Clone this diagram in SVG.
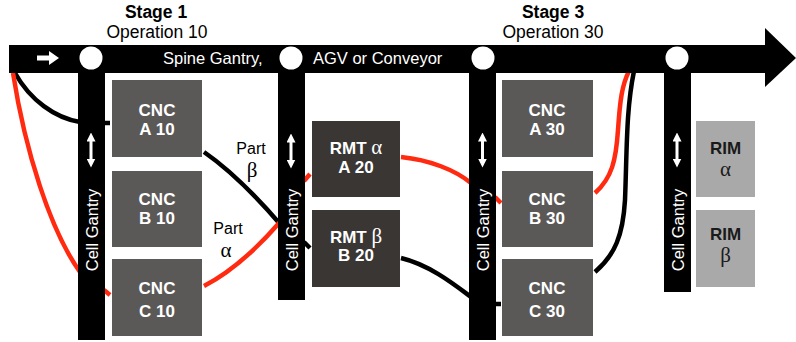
<svg xmlns="http://www.w3.org/2000/svg" width="796" height="342" viewBox="0 0 796 342">
<defs>
<style>
.bar{fill:#000}
.cnc{fill:#5b5957}
.rmt{fill:#3a3634}
.rim{fill:#a9a9a9}
.hub{fill:#fff}
.lbl{font-family:"Liberation Sans",Arial,sans-serif;font-weight:bold;font-size:17px;fill:#fff;text-anchor:middle}
.rimt{font-family:"Liberation Sans",Arial,sans-serif;font-weight:bold;font-size:17px;fill:#1a1a1a;text-anchor:middle}
.greek{font-family:"Liberation Serif","Times New Roman",serif;font-size:21px;text-anchor:middle}
.gantry{font-family:"Liberation Sans",Arial,sans-serif;font-size:16.5px;fill:#fff;text-anchor:middle;dominant-baseline:central}
.spine{font-family:"Liberation Sans",Arial,sans-serif;font-size:16.5px;fill:#fff}
.title{font-family:"Liberation Sans",Arial,sans-serif;font-size:17.5px;fill:#000;text-anchor:middle}
.part{font-family:"Liberation Sans",Arial,sans-serif;font-size:16px;fill:#000;text-anchor:middle}
.r{fill:none;stroke:#ff2a10;stroke-width:4.5}
.k{fill:none;stroke:#000;stroke-width:4.5}
.dbl{fill:none;stroke:#fff;stroke-width:3}
</style>
<marker id="ah" viewBox="0 0 10 10" refX="5" refY="5" markerWidth="3" markerHeight="3" orient="auto-start-reverse" markerUnits="strokeWidth">
<path d="M0,0 L10,5 L0,10 z" fill="#fff"/>
</marker>
</defs>

<g id="titles">
<text class="title" x="156" y="18" font-weight="bold">Stage 1</text>
<text class="title" x="157" y="38">Operation 10</text>
<text class="title" x="553" y="18" font-weight="bold">Stage 3</text>
<text class="title" x="553" y="38">Operation 30</text>
</g>

<g id="connectors">
<path class="k" d="M15,73 C30,100 55,118 80,122"/>
<path class="k" d="M104,123 L110,123"/>
<path class="r" d="M13,73 C25,150 50,230 80,272"/>
<path class="r" d="M104,290 L110,295"/>
<path class="k" d="M204,152 C230,170 255,195 280,224"/>
<path class="k" d="M304,242 L310,248"/>
<path class="r" d="M204,286 C235,270 260,245 280,222"/>
<path class="r" d="M304,181 L310,174"/>
<path class="r" d="M401,157 C430,160 455,170 471,183"/>
<path class="r" d="M495,197 L501,203"/>
<path class="k" d="M401,258 C430,265 455,285 471,297"/>
<path class="k" d="M495,304 L501,304"/>
<path class="r" d="M595,193 C612,178 616,160 618,130 C620,100 622,85 629,71"/>
<path class="k" d="M595,272 C615,255 623,235 625,200 C627,150 626,110 634,71"/>
</g>

<g id="spine">
<rect class="bar" x="9" y="45" width="758" height="28"/>
<polygon class="bar" points="765,28 796,58 765,87"/>
<path d="M37,58 L50,58" stroke="#fff" stroke-width="5" fill="none"/>
<polygon points="49,51 59,58 49,65" fill="#fff"/>
<text class="spine" x="163" y="64">Spine Gantry,</text>
<text class="spine" x="313" y="64">AGV or Conveyor</text>
</g>

<g id="gantry1">
<rect class="bar" x="78" y="58" width="27" height="282"/>
<circle class="hub" cx="91" cy="58" r="11.5"/>
<path class="dbl" d="M91,137 L91,163" marker-start="url(#ah)" marker-end="url(#ah)"/>
<text class="gantry" transform="translate(91.5,230) rotate(-90)">Cell Gantry</text>
</g>
<g id="gantry2">
<rect class="bar" x="278" y="58" width="27" height="242"/>
<circle class="hub" cx="291" cy="58" r="11.5"/>
<path class="dbl" d="M291,138 L291,164" marker-start="url(#ah)" marker-end="url(#ah)"/>
<text class="gantry" transform="translate(291.5,230) rotate(-90)">Cell Gantry</text>
</g>
<g id="gantry3">
<rect class="bar" x="469" y="58" width="27" height="282"/>
<circle class="hub" cx="483" cy="58" r="11.5"/>
<path class="dbl" d="M482.5,137 L482.5,163" marker-start="url(#ah)" marker-end="url(#ah)"/>
<text class="gantry" transform="translate(483,230) rotate(-90)">Cell Gantry</text>
</g>
<g id="gantry4">
<rect class="bar" x="664" y="58" width="27" height="234"/>
<circle class="hub" cx="677" cy="58" r="11.5"/>
<path class="dbl" d="M677,137 L677,163" marker-start="url(#ah)" marker-end="url(#ah)"/>
<text class="gantry" transform="translate(678,230) rotate(-90)">Cell Gantry</text>
</g>

<g id="cncA10"><rect class="cnc" x="112" y="80" width="90" height="77"/>
<text class="lbl" x="157" y="116">CNC</text><text class="lbl" x="157" y="135">A 10</text></g>
<g id="cncB10"><rect class="cnc" x="112" y="171" width="90" height="76"/>
<text class="lbl" x="157" y="205">CNC</text><text class="lbl" x="157" y="224">B 10</text></g>
<g id="cncC10"><rect class="cnc" x="112" y="259" width="90" height="77"/>
<text class="lbl" x="157" y="294">CNC</text><text class="lbl" x="157" y="317">C 10</text></g>

<g id="rmtA20"><rect class="rmt" x="312" y="121" width="88" height="76"/>
<text class="lbl" x="356" y="154">RMT <tspan class="greek" font-weight="normal">α</tspan></text><text class="lbl" x="356" y="173">A 20</text></g>
<g id="rmtB20"><rect class="rmt" x="312" y="210" width="88" height="77"/>
<text class="lbl" x="356" y="243">RMT <tspan class="greek" font-weight="normal">β</tspan></text><text class="lbl" x="356" y="261">B 20</text></g>

<g id="cncA30"><rect class="cnc" x="502" y="80" width="91" height="77"/>
<text class="lbl" x="547" y="116">CNC</text><text class="lbl" x="547" y="135">A 30</text></g>
<g id="cncB30"><rect class="cnc" x="502" y="171" width="91" height="76"/>
<text class="lbl" x="547" y="205">CNC</text><text class="lbl" x="547" y="224">B 30</text></g>
<g id="cncC30"><rect class="cnc" x="502" y="259" width="91" height="77"/>
<text class="lbl" x="547" y="294">CNC</text><text class="lbl" x="547" y="317">C 30</text></g>

<g id="rimA"><rect class="rim" x="696" y="121" width="59" height="76"/>
<text class="rimt" x="725.5" y="154">RIM</text><text class="greek" x="725.5" y="176" fill="#1a1a1a">α</text></g>
<g id="rimB"><rect class="rim" x="696" y="210" width="59" height="77"/>
<text class="rimt" x="725.5" y="240">RIM</text><text class="greek" x="725.5" y="262" fill="#1a1a1a">β</text></g>

<g id="labels">
<text class="part" x="251" y="154">Part</text>
<text class="greek" x="252" y="177" fill="#000">β</text>
<text class="part" x="228" y="234">Part</text>
<text class="greek" x="226" y="257" fill="#000">α</text>
</g>
</svg>
